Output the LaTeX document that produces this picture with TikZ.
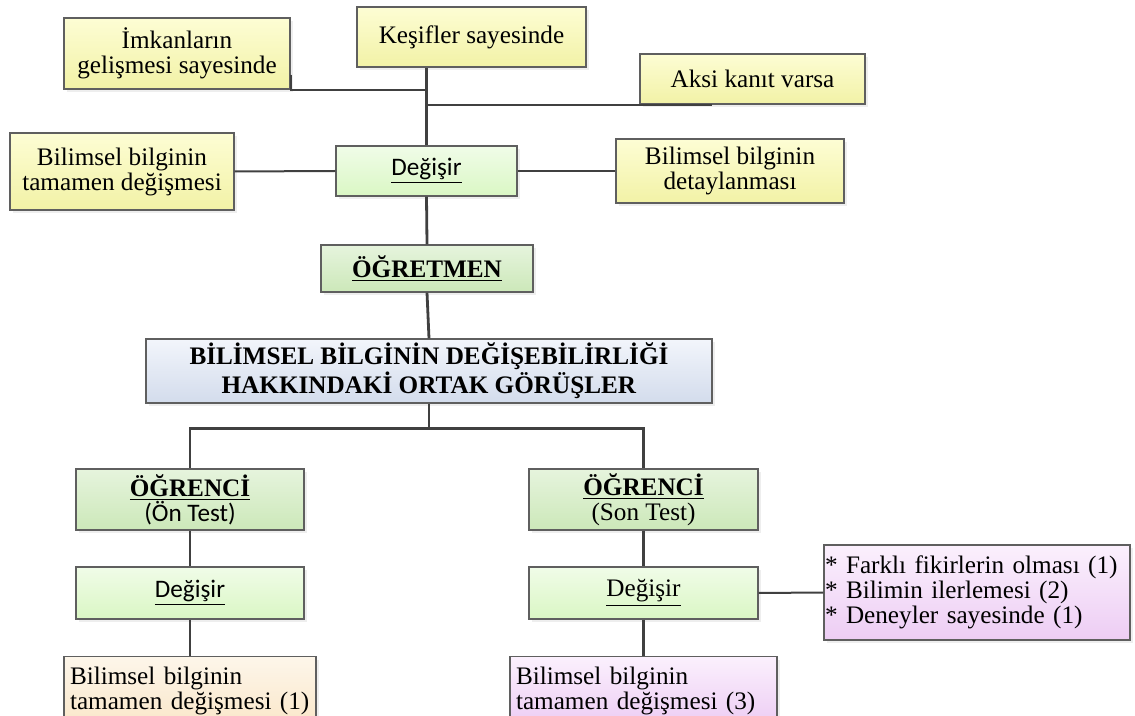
\documentclass[tikz,border=0pt]{standalone}
\usepackage{fontspec}
\setmainfont{Liberation Serif}
\newfontfamily\calfont{Carlito}
\usetikzlibrary{shadows}
\definecolor{yelA}{HTML}{FDFDD4}
\definecolor{yelB}{HTML}{F2F2A6}
\definecolor{lgrA}{HTML}{F0FCE8}
\definecolor{lgrB}{HTML}{DAF7C4}
\definecolor{mgrA}{HTML}{E6F4DD}
\definecolor{mgrB}{HTML}{CCE8B9}
\definecolor{bluA}{HTML}{F2F5FB}
\definecolor{bluB}{HTML}{D3DCEC}
\definecolor{pchA}{HTML}{FDF6EA}
\definecolor{pchB}{HTML}{FAE7CA}
\definecolor{lilA}{HTML}{FBF0FD}
\definecolor{lilB}{HTML}{EDCDF4}
\definecolor{boxline}{HTML}{5F5F5F}
\definecolor{linec}{HTML}{404040}
\begin{document}
\begin{tikzpicture}[x=0.5pt,y=-0.5pt,
  box/.style={draw=boxline, line width=0.6pt, align=center, inner sep=2pt,
    font=\fontsize{12.6}{12.5}\selectfont,
    drop shadow={shadow xshift=1.5pt, shadow yshift=-1.5pt, fill=black!13}},
  yel/.style={box, top color=yelA, bottom color=yelB},
  lgreen/.style={box, top color=lgrA, bottom color=lgrB},
  mgreen/.style={box, top color=mgrA, bottom color=mgrB},
  bluebox/.style={box, top color=bluA, bottom color=bluB},
  peach/.style={box, top color=pchA, bottom color=pchB},
  lilac/.style={box, top color=lilA, bottom color=lilB},
  link/.style={draw=linec, line width=1.4pt},
  thinlink/.style={draw=linec, line width=1pt}]
\useasboundingbox (0,0) rectangle (1135,716);
% ogretmen
\node[yel, minimum width=113pt, minimum height=35.5pt] (imk) at (177,53.5) {İmkanların\\gelişmesi sayesinde};
\node[yel, minimum width=114.5pt, minimum height=30pt] (kes) at (471.5,37) {Keşifler sayesinde};
\node[yel, minimum width=112.5pt, minimum height=25pt] (aksi) at (752.5,79) {Aksi kanıt varsa};
\node[yel, minimum width=112pt, minimum height=38.5pt] (lbil) at (122,171.5) {Bilimsel bilginin\\tamamen değişmesi};
\node[lgreen, minimum width=90.5pt, minimum height=25pt] (deg) at (426.5,171) {\calfont\underline{Değişir}};
\node[yel, minimum width=114pt, minimum height=32pt] (rbil) at (730,171) {Bilimsel bilginin\\detaylanması};
\node[mgreen, minimum width=106pt, minimum height=23.5pt] (ogr) at (427,268.5) {\textbf{\underline{ÖĞRETMEN}}};
\node[bluebox, minimum width=283pt, minimum height=32pt] (main) at (429,371) {\textbf{BİLİMSEL BİLGİNİN DEĞİŞEBİLİRLİĞİ}\\\textbf{HAKKINDAKİ ORTAK GÖRÜŞLER}};
% ogrenci
\node[mgreen, minimum width=114pt, minimum height=30.5pt] (ogc1) at (190,499.5) {\textbf{\underline{ÖĞRENCİ}}\\{\calfont (Ön Test)}};
\node[mgreen, minimum width=114.5pt, minimum height=30.5pt] (ogc2) at (643.5,499.5) {\textbf{\underline{ÖĞRENCİ}}\\(Son Test)};
\node[lgreen, minimum width=114pt, minimum height=26pt] (deg1) at (190,593) {\calfont\underline{Değişir}};
\node[lgreen, minimum width=114.5pt, minimum height=26pt] (deg2) at (643.5,593) {\underline{Değişir}};
\node[lilac, text width=152pt, align=left, inner xsep=0.5pt, minimum height=47.5pt] (list) at (977,592.5) {{}* Farklı fikirlerin olması (1)\\{}* Bilimin ilerlemesi (2)\\{}* Deneyler sayesinde (1)};
\node[peach, anchor=north, text width=120pt, align=left, inner xsep=3pt, inner ysep=5pt] (bot1) at (190,656) {Bilimsel bilginin\\tamamen değişmesi (1)};
\node[lilac, anchor=north, text width=127.5pt, align=left, inner xsep=3pt, inner ysep=5pt] (bot2) at (643.5,656) {Bilimsel bilginin\\tamamen değişmesi (3)};
% connectors
\draw[link] (deg.north) -- (deg.north |- kes.south);
\draw[thinlink] ([yshift=7.5pt]imk.south east) -- (imk.south east) -- (imk.south east -| deg.north);
\draw[thinlink] (deg.north |- aksi.south) -- ([xshift=36.5pt]aksi.south west);
\draw[thinlink] (lbil.east) -- (deg.west);
\draw[thinlink] (deg.east) -- (rbil.west);
\draw[link] (deg.south) -- (ogr.north);
\draw[link] (ogr.south) -- (main.north);
\coordinate (br) at ([yshift=-12.5pt]main.south);
\draw[link] (main.south) -- (br);
\draw[link] (ogc1.north) |- (br) -| (ogc2.north);
\draw[link] (ogc1.south) -- (deg1.north);
\draw[link] (deg1.south) -- (bot1.north);
\draw[link] (ogc2.south) -- (deg2.north);
\draw[link] (deg2.south) -- (bot2.north);
\draw[thinlink] (deg2.east) -- (list.west);
\end{tikzpicture}
\end{document}
